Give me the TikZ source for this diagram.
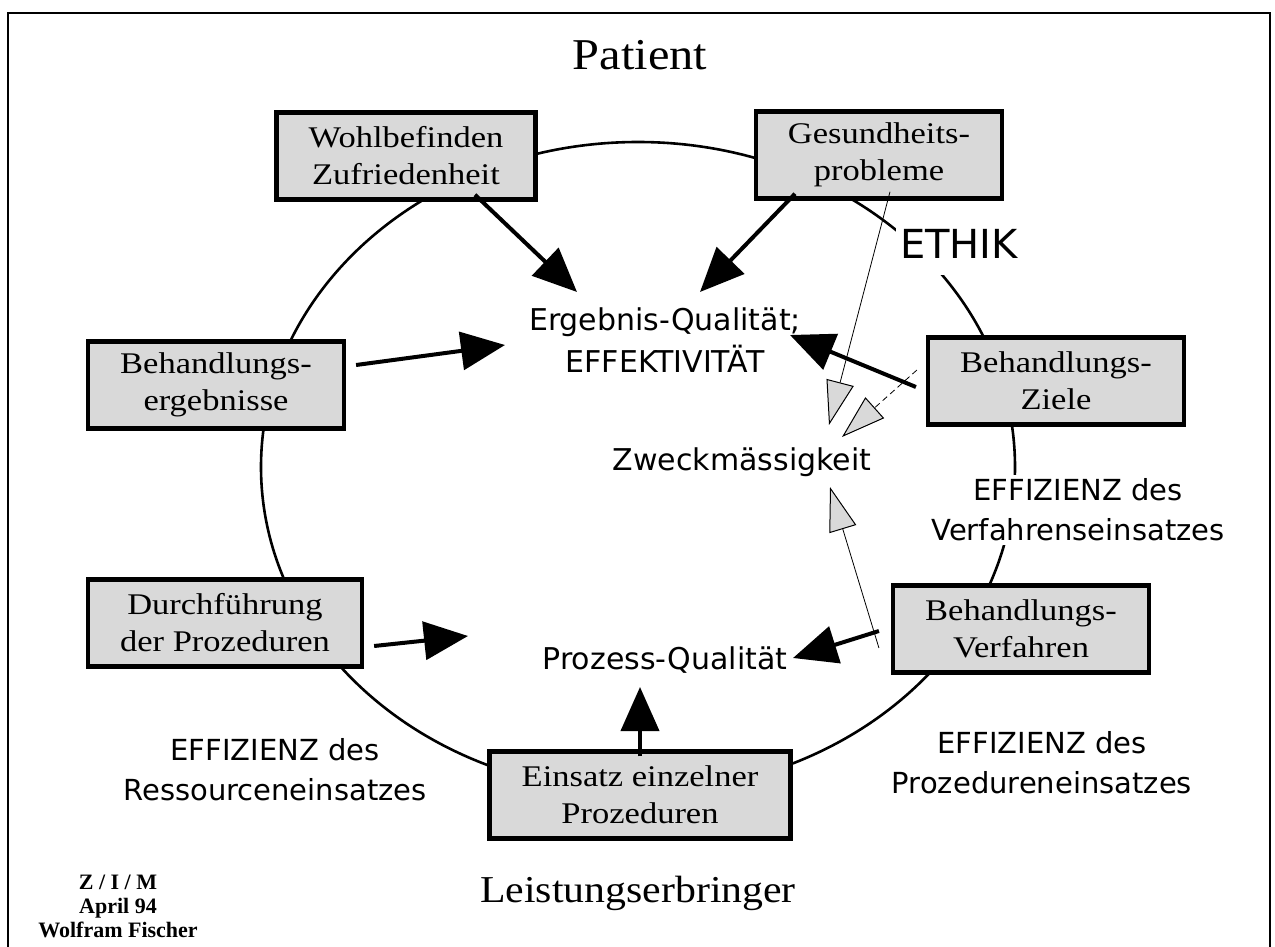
\documentclass[tikz,border=0pt]{standalone}
\usepackage{fontspec}
\setmainfont{Liberation Serif}
\newfontfamily\boxfont[FakeStretch=1.15]{Liberation Serif}
\newfontfamily\titlefont[FakeStretch=1.1]{Liberation Serif}
\newfontfamily\comic{DejaVu Sans}
\usetikzlibrary{arrows.meta}
\begin{document}
\begin{tikzpicture}[x=1pt,y=-1pt,
  box/.style={draw,line width=4.5pt,fill=black!15,align=center,
    font=\boxfont\fontsize{30}{37}\selectfont,inner xsep=32pt,inner ysep=4pt,minimum height=87pt},
  lbl/.style={font=\comic\fontsize{30}{42}\selectfont,align=center},
  eff/.style={font=\comic\fontsize{29}{40}\selectfont,align=center},
  title/.style={font=\titlefont\fontsize{40}{44}\selectfont},
  big/.style={line width=4pt,-{Triangle[length=44pt,width=38pt]}},
  hollow/.style={line width=0.8pt,-{Triangle[length=44pt,width=28pt,fill=black!15,line width=1pt]}},
  frame/.style={line width=1.8pt}
]
\useasboundingbox (0,0) rectangle (1275,947);
% frame
\coordinate (f1) at (8,947);
\coordinate (f2) at (8,13);
\coordinate (f3) at (1270,13);
\coordinate (f4) at (1270,947);
\draw[frame] (f1) -- (f2) -- (f3) -- (f4);
% cycle
\draw[line width=2.6pt] (638,467) ellipse [x radius=377, y radius=325];
% labels that interrupt the cycle
\node[lbl,fill=white,inner xsep=4pt,inner ysep=16pt,font=\comic\fontsize{40}{44}\selectfont] (ethik) at (959,244) {ETHIK};
\node[eff,fill=white,inner sep=4pt] (effv) at (1078,510) {EFFIZIENZ des\\Verfahrenseinsatzes};
% titles
\node[title,font=\titlefont\fontsize{44}{48}\selectfont] (patient) at (640,55) {Patient};
\node[title,font=\titlefont\fontsize{38}{44}\selectfont] (leist) at (638,893) {Leistungserbringer};
% boxes
\node[box] (b1) at (406,156) {Wohlbefinden\\Zufriedenheit};
\node[box] (b2) at (879,155) {Gesundheits-\\probleme};
\node[box] (b3) at (216,385) {Behandlungs-\\ergebnisse};
\node[box] (b4) at (1056,381) {Behandlungs-\\Ziele};
\node[box] (b5) at (225,623) {Durchführung\\der Prozeduren};
\node[box] (b6) at (1021,629) {Behandlungs-\\Verfahren};
\node[box] (b7) at (640,795) {Einsatz einzelner\\Prozeduren};
% central texts
\node[lbl] (erg) at (665,340) {Ergebnis-Qualität;\\EFFEKTIVITÄT};
\node[lbl] (zweck) at (742,462) {Zweckmässigkeit};
\node[lbl] (proz) at (665,660) {Prozess-Qualität};
\node[eff] (effr) at (275,770) {EFFIZIENZ des\\Ressourceneinsatzes};
\node[eff] (effp) at (1042,763) {EFFIZIENZ des\\Prozedureneinsatzes};
% footer
\node[font=\bfseries\fontsize{22}{24}\selectfont,align=center] (auth) at (118,906) {Z / I / M\\April 94\\Wolfram Fischer};
% arrow tips
\coordinate (t1) at (577,292);
\coordinate (t2) at (700,292);
\coordinate (t3) at (505,345);
\coordinate (t4) at (790,335);
\coordinate (t5) at (468,636);
\coordinate (t6) at (793,658);
\coordinate (t7) at (640,687);
\coordinate (h1) at (829,425);
\coordinate (h2) at (842,437);
\coordinate (h3) at (830,487);
% thick arrows
\draw[big] ([xshift=69pt,yshift=7pt]b1.south) -- (t1);
\draw[big] ([xshift=-84pt,yshift=7pt]b2.south) -- (t2);
\draw[big] ([xshift=10pt,yshift=20pt]b3.east) -- (t3);
\draw[big] ([xshift=-10pt,yshift=-6pt]b4.west) -- (t4);
\draw[big] ([xshift=10pt,yshift=-23pt]b5.east) -- (t5);
\draw[big] ([xshift=-12pt,yshift=-2pt]b6.west) -- (t6);
\draw[big] ([yshift=-7pt]b7.north) -- (t7);
% thin hollow arrows
\draw[hollow] ([xshift=11pt,yshift=9pt]b2.south) -- (h1);
\draw[hollow,dash pattern=on 6pt off 4pt] ([xshift=-9pt,yshift=11pt]b4.west) -- (h2);
\draw[hollow] ([xshift=-12pt,yshift=-19pt]b6.west) -- (h3);
\end{tikzpicture}
\end{document}
